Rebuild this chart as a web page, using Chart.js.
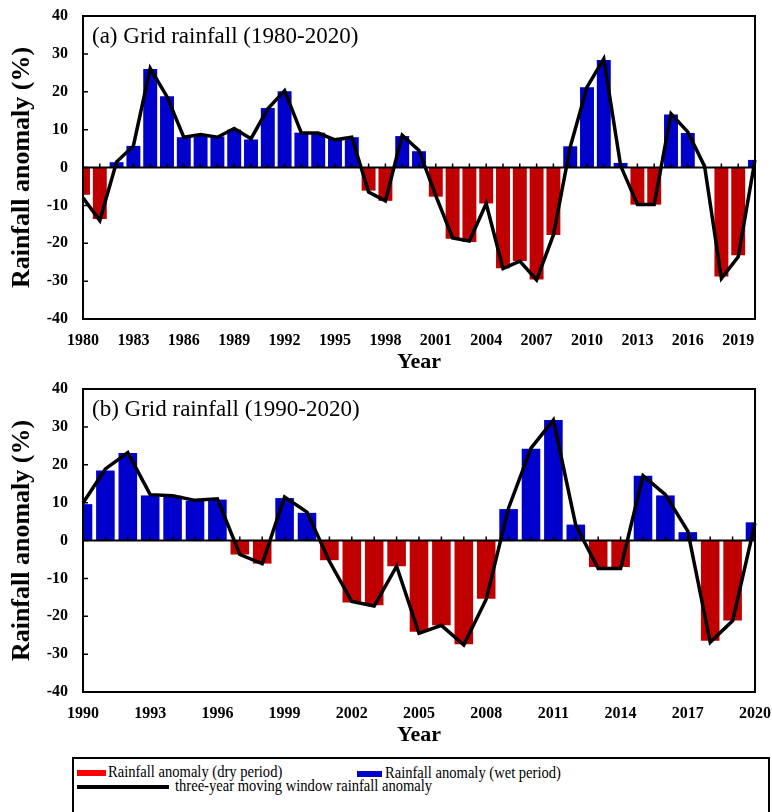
<!DOCTYPE html>
<html lang="en">
<head>
<meta charset="UTF-8">
<title>Rainfall anomaly</title>
<script src="https://cdn.jsdelivr.net/npm/chart.js"></script>
<style>
  body { margin: 0; background: #fff; width: 772px; height: 812px; overflow: hidden; position: relative; font-family: "Liberation Serif", "Times New Roman", serif; }
  .panel { position: absolute; left: 0; width: 772px; height: 375px; }
  #panelA { top: 0; }
  #panelB { top: 373px; }
  #legend { position: absolute; left: 72px; top: 757px; width: 694px; height: 80px; border: 2px solid #000; }
  #legend .sw { position: absolute; }
  #legend .txt { position: absolute; font-size: 16px; line-height: 18px; white-space: nowrap; transform: scaleX(0.91); transform-origin: left center; color: #000; }
</style>
</head>
<body>
<div class="panel" id="panelA"><canvas id="chartA"></canvas></div>
<div class="panel" id="panelB"><canvas id="chartB"></canvas></div>
<div id="legend">
  <div class="sw" style="left:3px;top:11px;width:29px;height:6px;background:#ff0000"></div>
  <div class="txt" style="left:34px;top:4px">Rainfall anomaly (dry period)</div>
  <div class="sw" style="left:283px;top:12px;width:25px;height:6px;background:#0000cc"></div>
  <div class="txt" style="left:311px;top:5px">Rainfall anomaly (wet period)</div>
  <div class="sw" style="left:3px;top:26px;width:92px;height:4px;background:#000"></div>
  <div class="txt" style="left:101px;top:18px">three-year moving window rainfall anomaly</div>
</div>
<script>
// (a) 1980-2020
const yearsA = ['1980','1981','1982','1983','1984','1985','1986','1987','1988','1989',
  '1990','1991','1992','1993','1994','1995','1996','1997','1998','1999',
  '2000','2001','2002','2003','2004','2005','2006','2007','2008','2009',
  '2010','2011','2012','2013','2014','2015','2016','2017','2018','2019','2020'];
const anomalyA = [-7.2, -13.6, 1.4, 5.7, 26.0, 18.8, 8.0, 8.5, 8.2, 10.0,
  7.4, 15.7, 20.1, 9.2, 9.2, 7.8, 8.0, -6.1, -8.8, 8.3,
  4.3, -7.7, -18.8, -19.7, -9.5, -26.6, -24.7, -29.6, -17.8, 5.6,
  21.2, 28.4, 1.2, -9.8, -9.8, 14.0, 9.1, 0, -28.8, -23.2, 2.0];
const movingA = [-8.0, -14.0, 1.5, 5.7, 26.2, 18.7, 8.0, 8.7, 8.0, 10.3,
  7.6, 15.5, 20.3, 9.1, 9.1, 7.3, 8.0, -6.5, -8.8, 8.5,
  4.5, -7.4, -18.6, -19.4, -9.5, -26.7, -24.7, -29.7, -17.8, 5.4,
  21.2, 28.7, 0.5, -9.8, -9.8, 14.2, 9.4, 0.3, -29.3, -23.6, 2.0];

// (b) 1990-2020
const yearsB = ['1990','1991','1992','1993','1994','1995','1996','1997','1998','1999',
  '2000','2001','2002','2003','2004','2005','2006','2007','2008','2009',
  '2010','2011','2012','2013','2014','2015','2016','2017','2018','2019','2020'];
const anomalyB = [9.6, 18.5, 23.1, 11.9, 11.8, 10.5, 10.8, -3.7, -6.1, 11.2,
  7.3, -5.2, -16.4, -17.1, -6.8, -24.1, -22.4, -27.4, -15.4, 8.3,
  24.2, 31.8, 4.2, -7.0, -7.0, 17.1, 11.9, 2.2, -26.5, -21.1, 4.8];
const movingB = [9.9, 18.9, 23.2, 12.1, 11.8, 10.6, 11.0, -3.7, -6.1, 11.5,
  7.5, -5.5, -16.1, -17.3, -6.8, -24.5, -22.4, -27.6, -15.5, 8.6,
  24.4, 31.8, 4.0, -7.4, -7.4, 17.1, 12.1, 2.5, -26.9, -21.2, 4.6];

const yMin = -40, yMax = 40, yStep = 10;
const labelEvery = 3;

const DRY = '#c00000';
const WET = '#0000cc';
const FONT = '"Liberation Serif", "Times New Roman", serif';

// box round the plot, zero line with year ticks, inner y ticks, panel title
const framePlugin = {
  id: 'frame',
  afterDatasetDraw(chart, args) {
    if (args.meta.type !== 'bar') return;
    const { ctx, chartArea: a, scales: { x, y } } = chart;
    const y0 = y.getPixelForValue(0);
    ctx.save();
    ctx.strokeStyle = '#000';
    ctx.lineWidth = 2;
    ctx.beginPath();
    ctx.moveTo(a.left, y0);
    ctx.lineTo(a.right, y0);
    ctx.stroke();
    ctx.lineWidth = 1.5;
    ctx.beginPath();
    x.ticks.forEach((t, i) => {
      const px = x.getPixelForTick(i);
      ctx.moveTo(px, y0);
      ctx.lineTo(px, y0 - 4);
    });
    ctx.stroke();
    ctx.restore();
  },
  afterDraw(chart, args, opts) {
    const { ctx, chartArea: a, scales: { y } } = chart;
    ctx.save();
    ctx.strokeStyle = '#000';
    ctx.lineWidth = 2;
    ctx.strokeRect(a.left, a.top, a.right - a.left, a.bottom - a.top);
    ctx.lineWidth = 1.5;
    ctx.beginPath();
    y.ticks.forEach((t, i) => {
      const py = y.getPixelForTick(i);
      ctx.moveTo(a.left, py);
      ctx.lineTo(a.left + 5, py);
    });
    ctx.stroke();
    ctx.fillStyle = '#000';
    ctx.font = '23px ' + FONT;
    ctx.textBaseline = 'middle';
    ctx.fillText(opts.title, a.left + 9, a.top + 21);
    ctx.restore();
  }
};

function makePanel(id, years, anomaly, moving, title) {
  return new Chart(document.getElementById(id), {
    type: 'bar',
    data: {
      labels: years,
      datasets: [
        {
          type: 'line',
          label: 'three-year moving window rainfall anomaly',
          data: moving,
          borderColor: '#000',
          borderWidth: 3.5,
          pointRadius: 0,
          tension: 0,
          order: 0
        },
        {
          type: 'bar',
          label: 'Rainfall anomaly',
          data: anomaly,
          backgroundColor: anomaly.map(v => v < 0 ? DRY : WET),
          barPercentage: 0.83,
          categoryPercentage: 1,
          order: 1
        }
      ]
    },
    options: {
      responsive: true,
      maintainAspectRatio: false,
      devicePixelRatio: 1,
      animation: false,
      layout: { padding: { top: 16, right: 17, left: 0, bottom: 0 } },
      plugins: {
        legend: { display: false },
        tooltip: { enabled: false },
        frame: { title }
      },
      scales: {
        x: {
          offset: false,
          grid: { display: false, drawTicks: false },
          border: { display: false },
          ticks: {
            autoSkip: false,
            maxRotation: 0,
            padding: 12,
            color: '#000',
            font: { family: FONT, size: 16, weight: 'bold' },
            callback: (v, i) => (i % labelEvery === 0 ? years[i] : '')
          },
          title: {
            display: true,
            text: 'Year',
            color: '#000',
            font: { family: FONT, size: 22, weight: 'bold', lineHeight: 1 },
            padding: { top: 0, bottom: 2 }
          },
          afterFit: s => { s.height = 56; s.paddingLeft = 0; s.paddingRight = 0; }
        },
        y: {
          min: yMin,
          max: yMax,
          grid: { display: false, drawTicks: false },
          border: { display: false },
          ticks: {
            stepSize: yStep,
            padding: 15,
            color: '#000',
            font: { family: FONT, size: 16, weight: 'bold' }
          },
          title: {
            display: true,
            text: 'Rainfall anomaly (%)',
            color: '#000',
            font: { family: FONT, size: 26, weight: 'bold', lineHeight: 1 },
            padding: { top: 9, bottom: 0 }
          },
          afterFit: s => { s.width = 83; s.paddingTop = 0; s.paddingBottom = 0; }
        }
      }
    },
    plugins: [framePlugin]
  });
}

makePanel('chartA', yearsA, anomalyA, movingA, '(a) Grid rainfall (1980-2020)');
makePanel('chartB', yearsB, anomalyB, movingB, '(b) Grid rainfall (1990-2020)');
</script>
</body>
</html>
